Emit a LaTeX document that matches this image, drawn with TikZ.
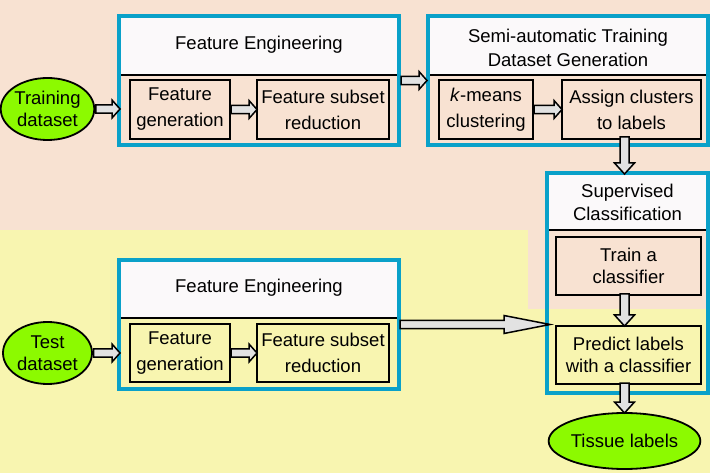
\documentclass[tikz,border=0pt]{standalone}
\usepackage{fontspec}
\setmainfont{Liberation Sans}
\usetikzlibrary{calc,shapes.geometric}
\definecolor{peach}{RGB}{248,226,210}
\definecolor{lyellow}{RGB}{248,245,176}
\definecolor{fblue}{RGB}{10,161,201}
\definecolor{titlebg}{RGB}{251,249,250}
\definecolor{agray}{RGB}{226,226,226}
\definecolor{lgreen}{RGB}{140,250,0}
\begin{document}
\begin{tikzpicture}[x=1pt,y=-1pt,
  every node/.style={font=\fontsize{18.5}{22}\selectfont, inner sep=0pt, outer sep=0pt},
  bluebox/.style={draw=fblue, line width=4pt},
  ibox/.style={draw=black, line width=1.8pt, align=center},
  widetext/.style={font=\fontsize{18.5}{26}\selectfont},
  oval/.style={ellipse, draw=black, line width=1.8pt, fill=lgreen, align=center},
  divider/.style={draw=black, line width=1.2pt},
  harrow/.style={draw=black, line width=1.5pt, fill=agray, line join=miter,
    to path={let \p1=(\tikztostart), \p2=(\tikztotarget) in
      (\x1,\y1+4.2pt) -- (\x2-#1,\y1+4.2pt) -- (\x2-#1,\y1+9pt) -- (\x2,\y1)
      -- (\x2-#1,\y1-9pt) -- (\x2-#1,\y1-4.2pt) -- (\x1,\y1-4.2pt) -- cycle}},
  harrow/.default=8pt,
  varrow/.style={draw=black, line width=1.5pt, fill=agray, line join=miter,
    to path={let \p1=(\tikztostart), \p2=(\tikztotarget) in
      (\x1-4.5pt,\y1) -- (\x1-4.5pt,\y2+#1) -- (\x1-10pt,\y2+#1) -- (\x1,\y2)
      -- (\x1+10pt,\y2+#1) -- (\x1+4.5pt,\y2+#1) -- (\x1+4.5pt,\y1) -- cycle}},
  varrow/.default=11pt
]
\useasboundingbox (0,0) rectangle (710,473);
% backgrounds
\fill[lyellow] (0,0) rectangle (710,473);
\fill[peach] (0,0) rectangle (710,230);
\fill[peach] (528,230) rectangle (707,309);

% title areas
\fill[titlebg] (119,16) rectangle (399,75);
\draw[divider] (119,75) -- (399,75);
\fill[titlebg] (428,16) rectangle (708,75);
\draw[divider] (428,75) -- (708,75);
\fill[titlebg] (547,173) rectangle (708,230);
\draw[divider] (547,230) -- (708,230);
\fill[titlebg] (119,260) rectangle (399,318);
\draw[divider] (119,318) -- (399,318);

% blue frames
\node[bluebox, minimum width=280pt, minimum height=129pt] (fe1) at (259,80.5) {};
\node[bluebox, minimum width=280pt, minimum height=129pt] (semi) at (568,80.5) {};
\node[bluebox, minimum width=161pt, minimum height=220pt] (sup) at (627.5,283) {};
\node[bluebox, minimum width=280pt, minimum height=129pt] (fe2) at (259,324.5) {};

% titles
\node (fe1t) at (259,45) {Feature Engineering};
\node[align=center, font=\fontsize{18.5}{24}\selectfont] (semit) at (568,48) {Semi-automatic Training\\Dataset Generation};
\node[align=center, font=\fontsize{18.5}{23}\selectfont] (supt) at (627.5,202) {Supervised\\Classification};
\node (fe2t) at (259,288) {Feature Engineering};

% inner boxes
\node[ibox, widetext, fill=peach, minimum width=100pt, minimum height=59pt] (fgen1) at (180,109.5) {Feature\\generation};
\node[ibox, widetext, fill=peach, minimum width=132pt, minimum height=59pt] (fsub1) at (323,109.5) {Feature subset\\reduction};
\node[ibox, widetext, fill=peach, minimum width=94pt, minimum height=59pt] (kmeans) at (486,109.5) {\textit{k}-means\\clustering};
\node[ibox, widetext, fill=peach, minimum width=139pt, minimum height=59pt] (assign) at (631.5,109.5) {Assign clusters\\to labels};
\node[ibox, fill=peach, minimum width=145pt, minimum height=58pt] (trainc) at (628.5,266) {Train a\\classifier};
\node[ibox, fill=lyellow, minimum width=145pt, minimum height=58pt] (predict) at (628.5,355) {Predict labels\\with a classifier};
\node[ibox, widetext, fill=lyellow, minimum width=100pt, minimum height=58pt] (fgen2) at (180,353) {Feature\\generation};
\node[ibox, widetext, fill=lyellow, minimum width=132pt, minimum height=58pt] (fsub2) at (323,353) {Feature subset\\reduction};

% ovals
\node[oval, minimum width=89pt, minimum height=62pt] (train) at (47.5,109) {Training\\dataset};
\node[oval, minimum width=89pt, minimum height=62pt] (test) at (47.5,353) {Test\\dataset};
\node[oval, minimum width=141pt, minimum height=56pt] (tissue) at (624.5,441) {Tissue labels};

% arrows
\draw[harrow] ([xshift=1.5pt]train.east) to ([xshift=1pt]fe1.west);
\draw[harrow] ([xshift=1pt]fgen1.east) to (fsub1.west);
\draw[harrow] ([xshift=2pt]fe1.east) to ([xshift=-1pt]semi.west);
\draw[harrow] ([xshift=1pt]kmeans.east) to (assign.west);
\draw[harrow] ([xshift=1.5pt]test.east) to ([xshift=1pt]fe2.west);
\draw[harrow] ([xshift=1pt]fgen2.east) to (fsub2.west);
\draw[harrow=46pt] ([xshift=1pt]fe2.east) to ([xshift=3pt]sup.west);
\draw[varrow] ([yshift=2pt]assign.south -| tissue.north) to ([yshift=-1pt]sup.north -| tissue.north);
\draw[varrow] ([yshift=1pt]trainc.south -| tissue.north) to (predict.north -| tissue.north);
\draw[varrow] ([yshift=1pt]predict.south -| tissue.north) to (tissue.north);
\end{tikzpicture}
\end{document}
